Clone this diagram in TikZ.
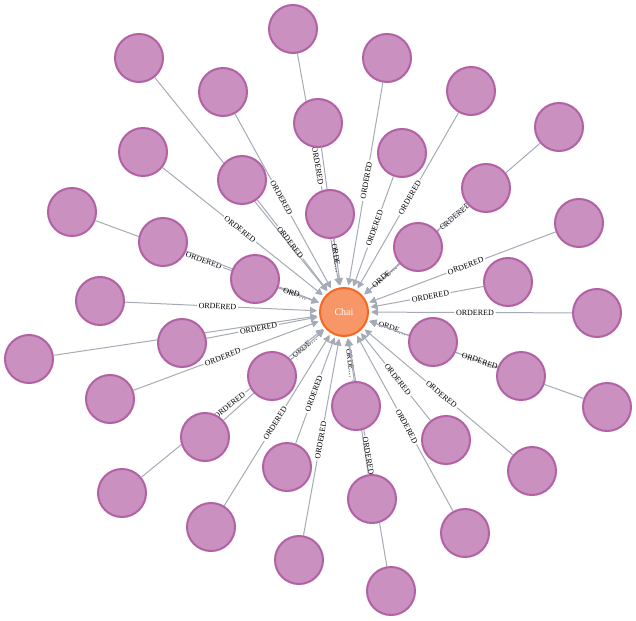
\documentclass[tikz,border=0pt]{standalone}
\usepackage{fontspec}
\setmainfont{Liberation Serif}
\usetikzlibrary{arrows.meta,calc,backgrounds}
\definecolor{orderfill}{HTML}{C990C0}
\definecolor{orderline}{HTML}{B261A5}
\definecolor{chaifill}{HTML}{F79767}
\definecolor{chailine}{HTML}{F36924}
\definecolor{relgray}{HTML}{A5ABB6}
\tikzset{
  order/.style={circle,draw=orderline,fill=orderfill,line width=2pt,minimum size=48pt,inner sep=0pt},
  product/.style={circle,draw=chailine,fill=chaifill,line width=2pt,minimum size=48pt,inner sep=0pt,text=white,font=\fontsize{10}{12}\selectfont},
  rel/.style={draw=relgray,line width=1pt},
  reltext/.style={sloped,inner sep=1.5pt,font=\fontsize{8}{9}\selectfont},
  >={Triangle[length=7pt,width=7pt]}
}
\begin{document}
\begin{tikzpicture}[x=1pt,y=-1pt]
        \useasboundingbox(0,0)rectangle(636,620);
        \node(chai)at(344,312)[product]{Chai};
        \node(o1)at(139,58)[order]{};
        \node(o2)at(293,29)[order]{};
        \node(o3)at(223,92)[order]{};
        \node(o4)at(318,123)[order]{};
        \node(o5)at(143,152)[order]{};
        \node(o6)at(242,180)[order]{};
        \node(o7)at(72,212)[order]{};
        \node(o8)at(163,242)[order]{};
        \node(o9)at(255,279)[order]{};
        \node(o10)at(100,301)[order]{};
        \node(o11)at(330,214)[order]{};
        \node(o12)at(387,58)[order]{};
        \node(o13)at(471,91)[order]{};
        \node(o14)at(559,127)[order]{};
        \node(o15)at(402,153)[order]{};
        \node(o16)at(486,188)[order]{};
        \node(o17)at(579,223)[order]{};
        \node(o18)at(418,247)[order]{};
        \node(o19)at(508,282)[order]{};
        \node(o20)at(597,313)[order]{};
        \node(o21)at(29,359)[order]{};
        \node(o22)at(182,343)[order]{};
        \node(o23)at(110,399)[order]{};
        \node(o24)at(272,376)[order]{};
        \node(o25)at(205,437)[order]{};
        \node(o26)at(122,493)[order]{};
        \node(o27)at(211,527)[order]{};
        \node(o28)at(287,467)[order]{};
        \node(o29)at(299,560)[order]{};
        \node(o30)at(433,342)[order]{};
        \node(o31)at(521,376)[order]{};
        \node(o32)at(607,407)[order]{};
        \node(o33)at(356,406)[order]{};
        \node(o34)at(446,440)[order]{};
        \node(o35)at(532,471)[order]{};
        \node(o36)at(372,499)[order]{};
        \node(o37)at(465,533)[order]{};
        \node(o38)at(391,591)[order]{};
        \begin{pgfonlayer}{background}
        \foreach \o/\t in {o1/{},o2/ORDERED,o3/ORDERED,o4/{},o5/ORDERED,o6/ORDERED,
            o7/ORDERED,o8/{},o9/ORD\ldots,o10/ORDERED,o11/ORDE\ldots,o12/ORDERED,o13/ORDERED,
            o14/ORDERED,o15/ORDERED,o16/{},o17/ORDERED,o18/ORDE\ldots,o19/ORDERED,o20/ORDERED,
            o21/{},o22/ORDERED,o23/ORDERED,o24/ORDE\ldots,o25/{},o26/ORDERED,o27/ORDERED,
            o28/ORDERED,o29/ORDERED,o30/ORDE\ldots,o31/{},o32/ORDERED,o33/ORDE\ldots,o34/ORDERED,
            o35/ORDERED,o36/{},o37/ORDERED,o38/ORDERED}{
            \coordinate(b\o)at($(chai)!34pt!(\o)$);
            \path(\o)--(b\o)node[midway,reltext](t\o){\t};
            \draw[rel](\o)--(t\o)(t\o)--(b\o);
            \draw[rel,->,shorten >=2pt](b\o)--(chai);
        }
        \end{pgfonlayer}
    \end{tikzpicture}
\end{document}
